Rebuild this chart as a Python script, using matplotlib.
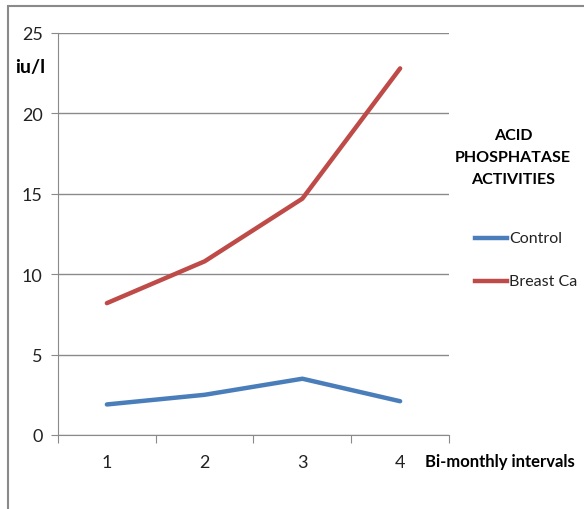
import matplotlib.pyplot as plt
from matplotlib.lines import Line2D
from matplotlib.patches import Rectangle

# bi-monthly sampling points
intervals = [1, 2, 3, 4]
control = [1.9, 2.5, 3.5, 2.1]
breast_ca = [8.2, 10.8, 14.7, 22.8]
y_ticks = [0, 5, 10, 15, 20, 25]

plt.rcParams['font.family'] = ['Lato', 'DejaVu Sans']

W, H = 584, 510
fig = plt.figure(figsize=(W / 100, H / 100), dpi=100)
fig.patch.set_facecolor('white')

# outer chart frame (runs off the right and bottom edges)
fig.patches.append(Rectangle((8 / W, -0.05), 1.1, 1 - 7 / H + 0.05,
                             transform=fig.transFigure, fill=False,
                             edgecolor='#8a8a8a', linewidth=1.5))

ax = fig.add_axes([58 / W, 1 - 436 / H, (449 - 58) / W, (436 - 34) / H])
ax.plot(intervals, control, color='#4a7ebb', linewidth=3.2, solid_capstyle='round')
ax.plot(intervals, breast_ca, color='#be4b48', linewidth=3.2, solid_capstyle='round')

ax.set_xlim(0.5, 4.5)
ax.set_ylim(0, 25)
ax.set_yticks(y_ticks)
ax.set_xticks([0.5, 1.5, 2.5, 3.5, 4.5])
ax.set_xticklabels([])
ax.set_xticks(intervals, minor=True)
ax.set_xticklabels([str(i) for i in intervals], minor=True)
ax.tick_params(axis='x', which='major', length=6, color='#8a8a8a', direction='out')
ax.tick_params(axis='x', which='minor', length=0, pad=14, labelsize=13, labelcolor='#222222')
ax.tick_params(axis='y', length=5, color='#8a8a8a', labelsize=13, labelcolor='#222222', pad=6)

ax.grid(axis='y', color='#8a8a8a', linewidth=1)
ax.set_axisbelow(True)
for side in ('top', 'right'):
    ax.spines[side].set_visible(False)
for side in ('left', 'bottom'):
    ax.spines[side].set_color('#8a8a8a')

fig.text(30 / W, 1 - 68 / H, 'iu/l', fontsize=14, fontweight='bold',
         ha='center', va='center')
fig.text(500 / W, 1 - 462 / H, 'Bi-monthly intervals', fontsize=12,
         fontweight='bold', ha='center', va='center')

fig.text(513 / W, 1 - 158 / H, 'ACID\nPHOSPHATASE\nACTIVITIES', fontsize=11.5,
         fontweight='bold', ha='center', va='center', linespacing=1.7)

legend_items = [('Control', '#4a7ebb', 239), ('Breast Ca', '#be4b48', 282)]
for label, color, ypix in legend_items:
    fig.lines.append(Line2D([475 / W, 507 / W], [1 - ypix / H] * 2,
                            transform=fig.transFigure, color=color, linewidth=3.2))
    fig.text(509 / W, 1 - ypix / H, label, fontsize=11.5, ha='left', va='center',
             color='#222222')

fig.savefig('out.png', dpi=100)
